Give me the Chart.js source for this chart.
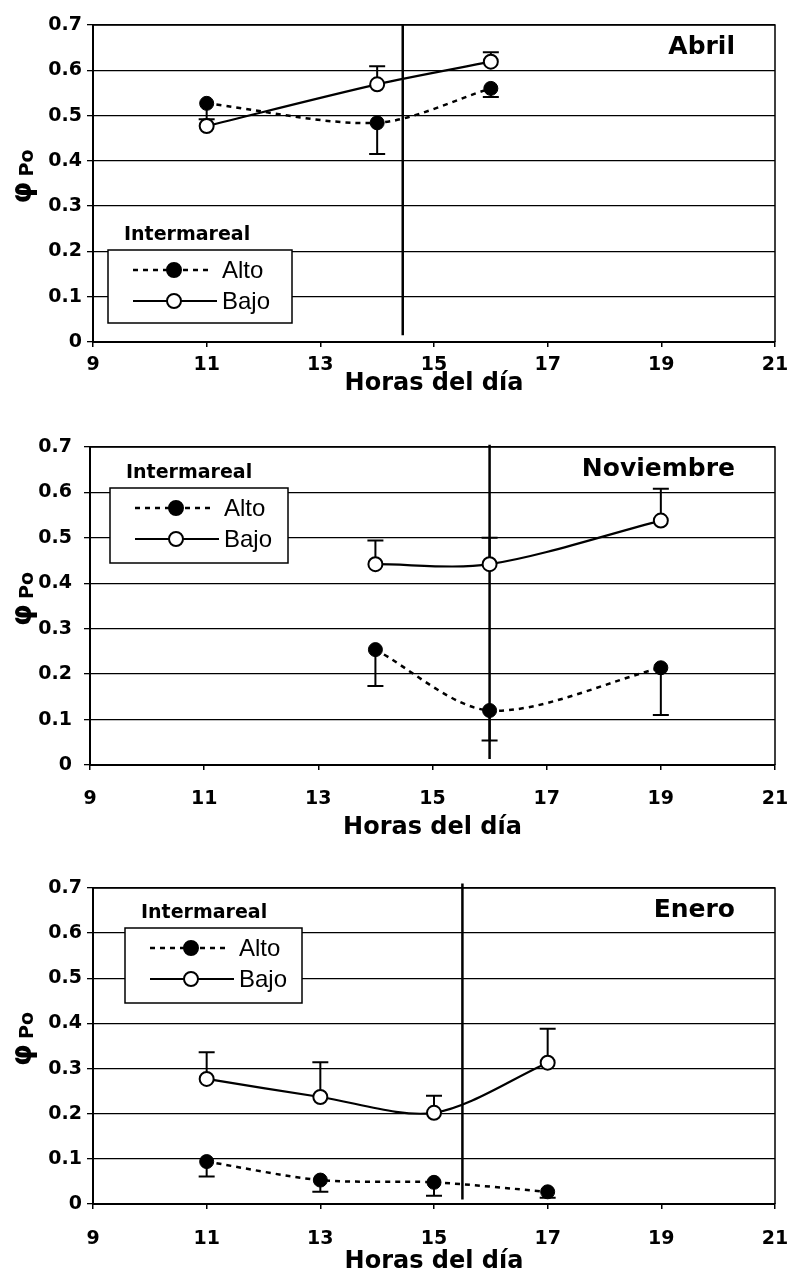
<!DOCTYPE html>
<html>
<head>
<meta charset="utf-8">
<script src="https://cdn.jsdelivr.net/npm/chart.js@4"></script>
<style>
body { margin: 0; background: #fff; }
canvas { display: block; }
</style>
</head>
<body>
<canvas id="abril" width="787" height="400"></canvas>
<canvas id="noviembre" width="787" height="445"></canvas>
<canvas id="enero" width="787" height="437"></canvas>
<script>
var ejeX = [9, 11, 13, 15, 17, 19, 21];
var ejeY = [0, 0.1, 0.2, 0.3, 0.4, 0.5, 0.6, 0.7];

// Abril
var abrilHoras = [11, 14, 16];
var abrilAlto = [0.527, 0.484, 0.56];
var abrilAltoMin = [0.492, 0.415, 0.541];
var abrilBajo = [0.477, 0.569, 0.619];
var abrilBajoMax = [null, 0.609, 0.64];
var abrilCorte = [14.45, 0.015, 0.7];

// Noviembre
var novHoras = [14, 16, 19];
var novAlto = [0.254, 0.12, 0.214];
var novAltoMin = [0.174, 0.054, 0.11];
var novBajo = [0.442, 0.442, 0.538];
var novBajoMax = [0.494, 0.5, 0.608];
var novCorte = [16, 0.013, 0.705];

// Enero
var eneroHoras = [11, 13, 15, 17];
var eneroAlto = [0.094, 0.053, 0.048, 0.027];
var eneroAltoMin = [0.061, 0.027, 0.018, 0.014];
var eneroBajo = [0.277, 0.237, 0.202, 0.313];
var eneroBajoMax = [0.336, 0.314, 0.24, 0.388];
var eneroCorte = [15.5, 0.01, 0.71];

var negrita = "'DejaVu Sans'";

function puntos(horas, vals) {
   return horas.map(function (h, i) { return { x: h, y: vals[i] }; });
}

function grafico(id, mes, horas, alto, altoMin, bajo, bajoMax, corte, caja) {
   // barras de error, debajo de los marcadores
   var errores = {
      id: 'errores',
      beforeDatasetsDraw: function (chart) {
         var ctx = chart.ctx, sx = chart.scales.x, sy = chart.scales.y;
         ctx.save();
         ctx.strokeStyle = '#000';
         ctx.lineWidth = 2;
         [[alto, altoMin], [bajo, bajoMax]].forEach(function (par) {
            horas.forEach(function (h, i) {
               if (par[1][i] == null) return;
               var px = sx.getPixelForValue(h);
               var y0 = sy.getPixelForValue(par[0][i]);
               var y1 = sy.getPixelForValue(par[1][i]);
               ctx.beginPath();
               ctx.moveTo(px, y0); ctx.lineTo(px, y1);
               ctx.moveTo(px - 8, y1); ctx.lineTo(px + 8, y1);
               ctx.stroke();
            });
         });
         ctx.restore();
      }
   };

   // marco, título del eje y, mes y leyenda
   var extras = {
      id: 'extras',
      afterDraw: function (chart) {
         var ctx = chart.ctx, a = chart.chartArea;
         ctx.save();
         ctx.strokeStyle = '#000';
         ctx.lineWidth = 1.5;
         ctx.beginPath();
         ctx.moveTo(a.left, a.top); ctx.lineTo(a.right, a.top); ctx.lineTo(a.right, a.bottom);
         ctx.stroke();

         // φPo
         var cy = (a.top + a.bottom) / 2;
         ctx.translate(0, cy);
         ctx.rotate(-Math.PI / 2);
         ctx.fillStyle = '#000';
         ctx.textAlign = 'left';
         ctx.textBaseline = 'alphabetic';
         ctx.font = 'bold 28px ' + negrita;
         ctx.fillText('φ', -20, 31);
         ctx.font = 'bold 19px ' + negrita;
         ctx.fillText('Po', 7, 33);
         ctx.setTransform(1, 0, 0, 1, 0, 0);

         // mes
         ctx.font = 'bold 25px ' + negrita;
         ctx.textAlign = 'right';
         ctx.textBaseline = 'middle';
         ctx.fillText(mes, a.right - 40, a.top + 22);

         // leyenda
         ctx.textAlign = 'left';
         ctx.font = 'bold 19px ' + negrita;
         ctx.fillText('Intermareal', caja.x + 16, caja.y - 15);
         ctx.fillStyle = '#fff';
         ctx.fillRect(caja.x, caja.y, caja.w, caja.h);
         ctx.lineWidth = 1.5;
         ctx.strokeRect(caja.x, caja.y, caja.w, caja.h);

         var filas = [
            { t: 'Alto', y: caja.y + 20, fin: caja.x + 102, dash: [5, 5], lw: 2.5, relleno: '#000' },
            { t: 'Bajo', y: caja.y + 51, fin: caja.x + 109, dash: [], lw: 2, relleno: '#fff' }
         ];
         filas.forEach(function (f) {
            ctx.setLineDash(f.dash);
            ctx.lineWidth = f.lw;
            ctx.beginPath();
            ctx.moveTo(caja.x + 25, f.y); ctx.lineTo(f.fin, f.y);
            ctx.stroke();
            ctx.setLineDash([]);
            ctx.beginPath();
            ctx.arc(caja.x + 66, f.y, 7, 0, Math.PI * 2);
            ctx.fillStyle = f.relleno;
            ctx.fill();
            ctx.lineWidth = 2;
            ctx.stroke();
            ctx.fillStyle = '#000';
            ctx.font = "24px 'Liberation Sans'";
            ctx.fillText(f.t, caja.x + 114, f.y + 1);
         });
         ctx.restore();
      }
   };

   new Chart(document.getElementById(id), {
      type: 'line',
      data: {
         datasets: [{
            label: 'Alto',
            data: puntos(horas, alto),
            borderColor: '#000',
            borderWidth: 2.5,
            borderDash: [5, 5],
            tension: 0.3,
            pointRadius: 7,
            pointBackgroundColor: '#000',
            pointBorderColor: '#000',
            pointBorderWidth: 1
         }, {
            label: 'Bajo',
            data: puntos(horas, bajo),
            borderColor: '#000',
            borderWidth: 2.2,
            tension: 0.3,
            pointRadius: 7,
            pointBackgroundColor: '#fff',
            pointBorderColor: '#000',
            pointBorderWidth: 2
         }, {
            label: 'corte',
            data: [{ x: corte[0], y: corte[1] }, { x: corte[0], y: corte[2] }],
            borderColor: '#000',
            borderWidth: 2.5,
            pointRadius: 0,
            tension: 0,
            clip: false
         }]
      },
      options: {
         responsive: false,
         animation: false,
         layout: { padding: { top: caja.arriba, right: 12, left: 0, bottom: 0 } },
         plugins: { legend: { display: false }, tooltip: { enabled: false } },
         scales: {
            x: {
               type: 'linear',
               min: 9,
               max: 21,
               afterBuildTicks: function (s) { s.ticks = ejeX.map(function (v) { return { value: v }; }); },
               afterFit: function (s) { s.height = caja.altoX; s.paddingLeft = 0; s.paddingRight = 0; },
               grid: { drawOnChartArea: false, drawTicks: true, tickLength: 5, color: '#000', lineWidth: 1.5 },
               border: { color: '#000', width: 2 },
               ticks: {
                  color: '#000',
                  padding: caja.padX,
                  maxRotation: 0,
                  autoSkip: false,
                  font: { family: negrita, weight: 'bold', size: 19 }
               },
               title: {
                  display: true,
                  text: 'Horas del día',
                  color: '#000',
                  font: { family: negrita, weight: 'bold', size: 24 },
                  padding: { top: 0, bottom: caja.padTitulo }
               }
            },
            y: {
               min: 0,
               max: 0.7,
               afterBuildTicks: function (s) { s.ticks = ejeY.map(function (v) { return { value: v }; }); },
               afterFit: function (s) { s.width = caja.izq; s.paddingTop = 0; s.paddingBottom = 0; },
               grid: { color: '#000', lineWidth: 1.3, tickLength: 6 },
               border: { color: '#000', width: 2 },
               ticks: {
                  color: '#000',
                  padding: caja.padY,
                  font: { family: negrita, weight: 'bold', size: 19 },
                  callback: function (v) { return v === 0 ? '0' : v.toFixed(1); }
               }
            }
         }
      },
      plugins: [errores, extras]
   });
}

grafico('abril', 'Abril', abrilHoras, abrilAlto, abrilAltoMin, abrilBajo, abrilBajoMax, abrilCorte,
   { arriba: 25, izq: 93, altoX: 58, padX: 7, padTitulo: 2, padY: 5, x: 108, y: 250, w: 184, h: 73 });
grafico('noviembre', 'Noviembre', novHoras, novAlto, novAltoMin, novBajo, novBajoMax, novCorte,
   { arriba: 47, izq: 90, altoX: 80, padX: 18, padTitulo: 3, padY: 12, x: 110, y: 88, w: 178, h: 75 });
grafico('enero', 'Enero', eneroHoras, eneroAlto, eneroAltoMin, eneroBajo, eneroBajoMax, eneroCorte,
   { arriba: 43, izq: 93, altoX: 78, padX: 19, padTitulo: 6, padY: 5, x: 125, y: 83, w: 177, h: 75 });
</script>
</body>
</html>
